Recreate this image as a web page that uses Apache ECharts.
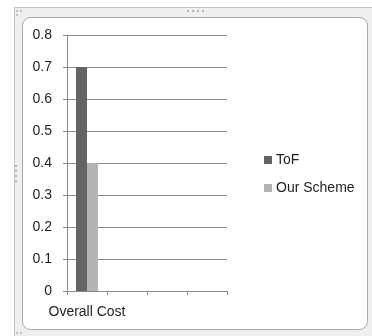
<!DOCTYPE html>
<html>
<head>
<meta charset="utf-8">
<script src="https://cdn.jsdelivr.net/npm/echarts@6/dist/echarts.min.js"></script>
<style>
  html, body { margin: 0; padding: 0; background: #ffffff; }
  #chart { width: 372px; height: 336px; }
</style>
</head>
<body>
<div id="chart"></div>
<script>
// Category slots on the x axis (only the first one is labelled)
const categories = ['Overall Cost', '', '', ''];
// Series values
const tofValues = [0.7, null, null, null];
const ourSchemeValues = [0.4, null, null, null];
// Value axis range
const yMin = 0;
const yMax = 0.8;
const yStep = 0.1;

const chart = echarts.init(document.getElementById('chart'), null, { renderer: 'canvas' });

const textColor = '#1e1e1e';
const lineColor = '#8a8a8a';
const fontFamily = '"Liberation Sans", Arial, sans-serif';
const fontSize = 14;

chart.setOption({
  animation: false,
  backgroundColor: '#ffffff',
  graphic: [
    // outer window frame
    { type: 'rect', z: -10, silent: true,
      shape: { x: 14.5, y: 7.5, width: 370, height: 340 },
      style: { fill: '#efefef', stroke: '#c4c4c4', lineWidth: 1 } },
    // inner rounded chart area
    { type: 'rect', z: -9, silent: true,
      shape: { x: 22.5, y: 17.5, width: 345, height: 312, r: 8 },
      style: { fill: '#ffffff', stroke: '#a8a8a8', lineWidth: 1 } },
    // resize handle dots (top centre)
    { type: 'group', z: -8, silent: true, children: [0, 1, 2, 3].map(i => ({
      type: 'rect', shape: { x: 187 + i * 5, y: 10, width: 2, height: 2 },
      style: { fill: '#b5b5b5' } })) },
    // resize handle dots (left middle)
    { type: 'group', z: -8, silent: true, children: [0, 1, 2, 3].map(i => ({
      type: 'rect', shape: { x: 15, y: 165 + i * 5, width: 2, height: 2 },
      style: { fill: '#b5b5b5' } })) },
    // corner dots
    { type: 'group', z: -8, silent: true, children: [
      { type: 'rect', shape: { x: 16, y: 10, width: 2, height: 2 }, style: { fill: '#c0c0c0' } },
      { type: 'rect', shape: { x: 20, y: 10, width: 2, height: 2 }, style: { fill: '#c0c0c0' } },
      { type: 'rect', shape: { x: 16, y: 14, width: 2, height: 2 }, style: { fill: '#c0c0c0' } },
      { type: 'rect', shape: { x: 16, y: 332, width: 2, height: 2 }, style: { fill: '#c0c0c0' } },
      { type: 'rect', shape: { x: 20, y: 332, width: 2, height: 2 }, style: { fill: '#c0c0c0' } }
    ] }
  ],
  grid: { left: 67, right: 145, top: 35, bottom: 45, containLabel: false },
  legend: {
    orient: 'vertical',
    left: 264,
    top: 153,
    padding: 0,
    itemWidth: 8,
    itemHeight: 8,
    itemGap: 14,
    icon: 'rect',
    textStyle: { color: textColor, fontSize: fontSize, fontFamily: fontFamily, padding: [0, 0, 0, -1] },
    data: ['ToF', 'Our Scheme']
  },
  xAxis: {
    type: 'category',
    data: categories,
    boundaryGap: true,
    axisLine: { lineStyle: { color: lineColor, width: 1 } },
    axisTick: { show: true, length: 4, inside: false, alignWithLabel: false,
      lineStyle: { color: lineColor } },
    axisLabel: { color: textColor, fontSize: fontSize, fontFamily: fontFamily, margin: 14, interval: 0 },
    splitLine: { show: false }
  },
  yAxis: {
    type: 'value',
    min: yMin,
    max: yMax,
    interval: yStep,
    axisLine: { show: true, lineStyle: { color: lineColor, width: 1 } },
    axisTick: { show: true, length: 4, lineStyle: { color: lineColor } },
    axisLabel: { color: textColor, fontSize: fontSize, fontFamily: fontFamily, margin: 15,
      formatter: v => (Math.round(v * 10) / 10).toString() },
    splitLine: { show: true, lineStyle: { color: lineColor, width: 1 } }
  },
  series: [
    { name: 'ToF', type: 'bar', data: tofValues, barWidth: 11, barGap: '0%',
      itemStyle: { color: '#646464' } },
    { name: 'Our Scheme', type: 'bar', data: ourSchemeValues, barWidth: 11, barGap: '0%',
      itemStyle: { color: '#b4b4b4' } }
  ]
});
</script>
</body>
</html>
